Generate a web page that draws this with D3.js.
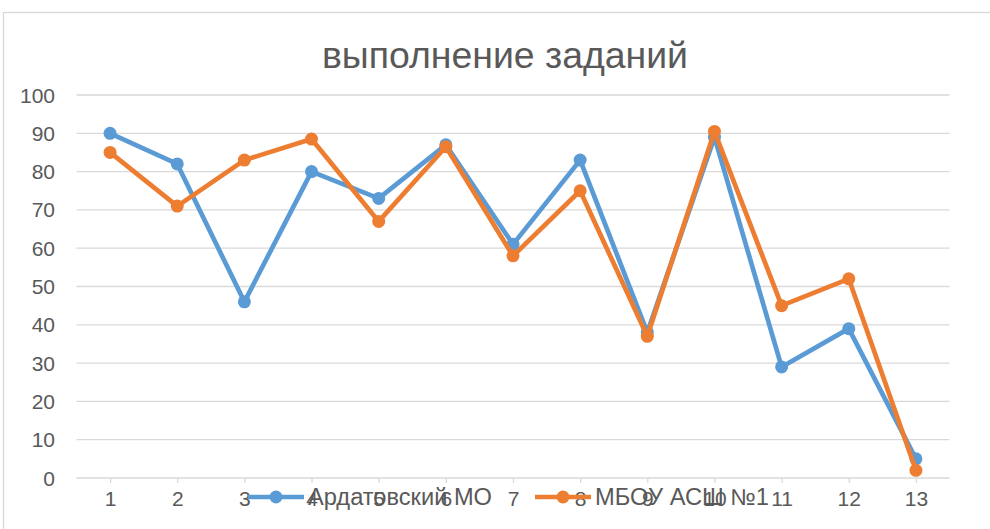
<!DOCTYPE html>
<html>
<head>
<meta charset="utf-8">
<script src="https://cdn.jsdelivr.net/npm/d3@7"></script>
<style>
  body { margin: 0; background: #fff; }
  text { font-family: "Liberation Sans", Arial, sans-serif; fill: #595959; }
</style>
</head>
<body>
<script>
// data
var tasks = [1, 2, 3, 4, 5, 6, 7, 8, 9, 10, 11, 12, 13];
var ardatovsky = [90, 82, 46, 80, 73, 87, 61, 83, 38, 89, 29, 39, 5];
var mbou = [85, 71, 83, 88.5, 67, 86.5, 58, 75, 37, 90.5, 45, 52, 2];
var yTicks = [0, 10, 20, 30, 40, 50, 60, 70, 80, 90, 100];
var seriesNames = ['Ардатовский МО', 'МБОУ АСШ №1'];
var titleText = 'выполнение заданий';

var blue = '#5B9BD5';
var orange = '#ED7D31';
var gridColor = '#D9D9D9';

var W = 990, H = 529;
var plot = {left: 76.5, right: 949.5, top: 95, bottom: 478};

var svg = d3.select('body').append('svg')
            .attr('width', W)
            .attr('height', H);

// chart border
svg.append('rect')
   .attr('x', 3.5).attr('y', 12.5)
   .attr('width', 1000).attr('height', 600)
   .attr('fill', 'none')
   .attr('stroke', gridColor)
   .attr('stroke-width', 1.3);

var xScale = d3.scalePoint().domain(tasks).range([plot.left, plot.right]).padding(0.5);
var yScale = d3.scaleLinear().domain([0, 100]).range([plot.bottom, plot.top]);

// gridlines
svg.append('g')
   .selectAll('line')
   .data(yTicks)
   .enter().append('line')
   .attr('x1', plot.left).attr('x2', plot.right)
   .attr('y1', function(d) { return yScale(d); })
   .attr('y2', function(d) { return yScale(d); })
   .attr('stroke', gridColor)
   .attr('stroke-width', 1.3);

// y labels
svg.append('g')
   .selectAll('text')
   .data(yTicks)
   .enter().append('text')
   .attr('x', 55)
   .attr('y', function(d) { return yScale(d); })
   .attr('dy', '0.36em')
   .attr('text-anchor', 'end')
   .style('font-size', '21px')
   .text(function(d) { return d; });

// x axis ticks + labels
var xAxis = d3.axisBottom(xScale).tickSize(5).tickPadding(8);
var gx = svg.append('g')
   .attr('transform', 'translate(0,' + plot.bottom + ')')
   .call(xAxis);
gx.select('.domain').remove();
gx.selectAll('line').attr('stroke', gridColor).attr('stroke-width', 1.3);
gx.selectAll('text')
  .style('font-size', '21px')
  .style('font-family', '"Liberation Sans", Arial, sans-serif')
  .attr('fill', '#595959');

var line = d3.line()
             .x(function(d, i) { return xScale(tasks[i]); })
             .y(function(d) { return yScale(d); });

function drawSeries(values, color) {
  svg.append('path')
     .datum(values)
     .attr('d', line)
     .attr('fill', 'none')
     .attr('stroke', color)
     .attr('stroke-width', 4.7)
     .attr('stroke-linejoin', 'round');
  svg.append('g')
     .selectAll('circle')
     .data(values)
     .enter().append('circle')
     .attr('cx', function(d, i) { return xScale(tasks[i]); })
     .attr('cy', function(d) { return yScale(d); })
     .attr('r', 6.5)
     .attr('fill', color);
}
drawSeries(ardatovsky, blue);
drawSeries(mbou, orange);

// title
svg.append('text')
   .attr('x', 505)
   .attr('y', 68)
   .attr('text-anchor', 'middle')
   .attr('textLength', 366)
   .attr('lengthAdjust', 'spacingAndGlyphs')
   .style('font-size', '36px')
   .text(titleText);

// legend
var legendItems = [
  {name: seriesNames[0], color: blue, x: 248, len: 184},
  {name: seriesNames[1], color: orange, x: 535, len: 174}
];
var lg = svg.append('g').selectAll('g')
   .data(legendItems)
   .enter().append('g')
   .attr('transform', function(d) { return 'translate(' + d.x + ',497)'; });
lg.append('line')
  .attr('x1', 0).attr('x2', 56)
  .attr('stroke', function(d) { return d.color; })
  .attr('stroke-width', 4.7);
lg.append('circle')
  .attr('cx', 28).attr('r', 6.5)
  .attr('fill', function(d) { return d.color; });
lg.append('text')
  .attr('x', 60)
  .attr('dy', '0.36em')
  .attr('textLength', function(d) { return d.len; })
  .attr('lengthAdjust', 'spacingAndGlyphs')
  .style('font-size', '23px')
  .text(function(d) { return d.name; });
</script>
</body>
</html>
